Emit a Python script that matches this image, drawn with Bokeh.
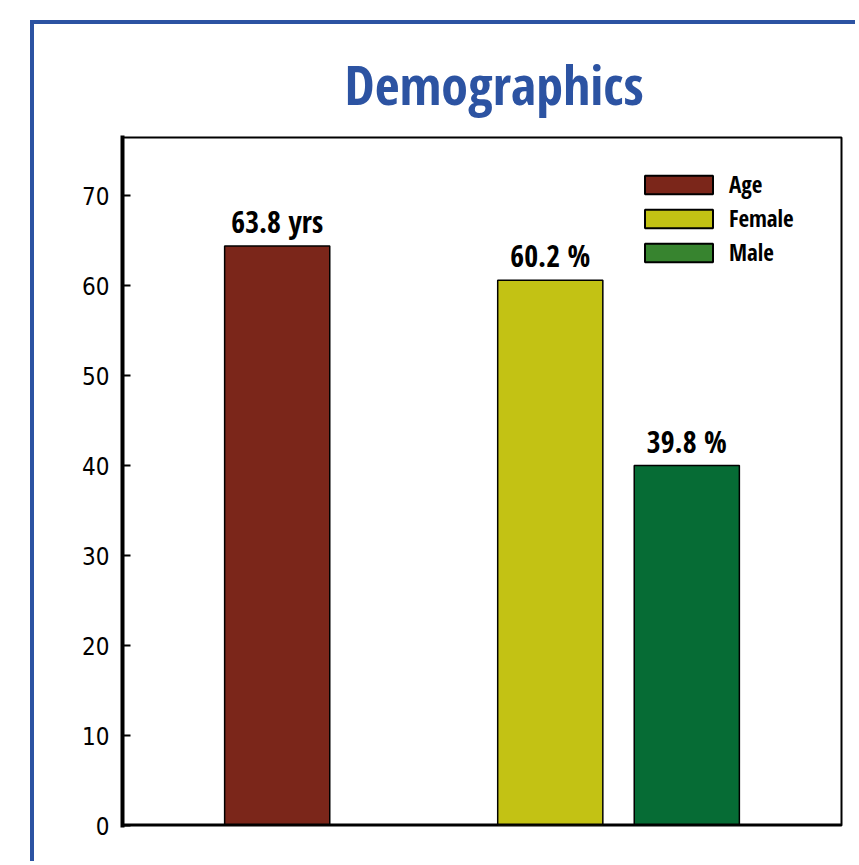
import numpy as np
from bokeh.plotting import figure
from bokeh.models import (ColumnDataSource, FactorRange, Range1d, LabelSet,
                          Legend, LegendItem, Span)
from bokeh.core.properties import value
from bokeh.embed import file_html
from bokeh.resources import INLINE

# ---- data ----
groups = ["Age", "Gender", "Gender"]
categories = ["Age", "Female", "Male"]
values = [64.4, 60.6, 40.0]
value_labels = ["63.8 yrs", "60.2 %", "39.8 %"]
bar_colors = ["#7B261A", "#C3C214", "#066C35"]
legend_colors = ["#7B261A", "#C3C214", "#37842F"]
y_ticks = [0, 10, 20, 30, 40, 50, 60, 70]
title_text = "Demographics"

BLUE = "#2C53A2"
FONT = "Open Sans Condensed"
TICK_FONT = "DejaVu Sans Condensed"

factors = list(zip(groups, categories))
src = ColumnDataSource(dict(x=factors, top=values, color=bar_colors, label=value_labels))

x_range = FactorRange(*factors, factor_padding=0.0, group_padding=1.0,
                      range_padding=0.633, range_padding_units="absolute")

p = figure(width=825, height=841, x_range=x_range, y_range=Range1d(0, 76.45),
           output_backend="svg", toolbar_location=None,
           min_border_left=88, min_border_top=113, min_border_right=18,
           min_border_bottom=40)
p.styles = {"margin-left": "30px", "margin-top": "20px",
            "border-top": f"4px solid {BLUE}", "border-left": f"4px solid {BLUE}"}

p.grid.visible = False
p.outline_line_color = "black"
p.outline_line_width = 2
p.background_fill_color = "white"
p.border_fill_color = "white"

p.vbar(x="x", top="top", width=0.77, source=src, fill_color="color",
       line_color="black", line_width=1.5)

labels = LabelSet(x="x", y="top", text="label", source=src, y_offset=13,
                  text_align="center", text_baseline="alphabetic",
                  text_font=value(FONT), text_font_style="bold", text_font_size="30px",
                  text_color="black")
p.add_layout(labels)

# legend (legend-only renderers carry the legend colours)
items = []
for name, col in zip(categories, legend_colors):
    r = p.vbar(x=[factors[0]], top=np.array([np.nan]), width=0.5,
               fill_color=col, line_color="black", line_width=2)
    items.append(LegendItem(label=name, renderers=[r]))
legend = Legend(items=items, location=(514, 557), padding=0, margin=0,
                border_line_alpha=0, background_fill_alpha=0,
                glyph_width=85, glyph_height=23, label_standoff=8, spacing=2,
                label_text_font=FONT, label_text_font_style="bold",
                label_text_font_size="23px", label_text_color="black")
p.add_layout(legend)

# axes
ya = p.yaxis[0]
ya.ticker = y_ticks
ya.major_tick_in = 8
ya.major_tick_out = 0
ya.major_tick_line_width = 2
ya.axis_line_width = 4
ya.axis_line_cap = "square"
ya.major_label_text_font = TICK_FONT
ya.major_label_text_font_size = "24px"
ya.major_label_text_color = "black"
ya.major_label_standoff = 13

p.xaxis.visible = False
p.add_layout(Span(location=0, dimension="width", line_color="black", line_width=4))

p.title.text = title_text
p.title.text_font = FONT
p.title.text_font_style = "bold"
p.title.text_font_size = "54px"
p.title.text_color = BLUE
p.title.align = "left"
p.title.offset = 222
p.title.standoff = 33

open("out.html", "w").write(file_html(p, INLINE))
